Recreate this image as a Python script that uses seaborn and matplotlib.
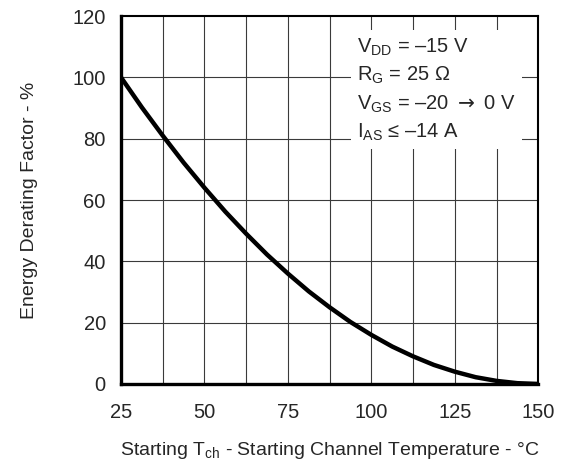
import numpy as np
import pandas as pd
import matplotlib
matplotlib.use("Agg")
import matplotlib.pyplot as plt
import seaborn as sns

# values
temperature = [25, 31.25, 37.5, 43.75, 50, 56.25, 62.5, 68.75, 75, 81.25, 87.5,
               93.75, 100, 106.25, 112.5, 118.75, 125, 131.25, 137.5, 143.75, 150]
derating = [100, 90.2, 81, 72.2, 64, 56.2, 49, 42.2, 36, 30.2, 25,
            20.2, 16, 12.2, 9, 6.2, 4, 2.2, 1, 0.25, 0]

x_ticks = [25, 50, 75, 100, 125, 150]
y_ticks = [0, 20, 40, 60, 80, 100, 120]
x_grid = [37.5, 50, 62.5, 75, 87.5, 100, 112.5, 125, 137.5]
y_grid = [20, 40, 60, 80, 100]

conditions = [
    r"$\mathsf{V_{DD}}$ = –15 V",
    r"$\mathsf{R_{G}}$ = 25 Ω",
    r"$\mathsf{V_{GS}}$ = –20 $\rightarrow$ 0 V",
    r"$\mathsf{I_{AS}}$ ≤ –14 A",
]

sns.set_style("white")
plt.rcParams["font.family"] = ["Liberation Sans", "DejaVu Sans"]
plt.rcParams["mathtext.fontset"] = "custom"
plt.rcParams["mathtext.sf"] = "Liberation Sans"
plt.rcParams["mathtext.rm"] = "DejaVu Sans"
plt.rcParams["mathtext.it"] = "DejaVu Sans"

df = pd.DataFrame({"T": temperature, "E": derating})

fig, ax = plt.subplots(figsize=(5.63, 4.74), dpi=100)
fig.subplots_adjust(left=0.215, right=0.956, top=0.966, bottom=0.19)

for gx in x_grid:
    ax.axvline(gx, color="#3a3a3a", lw=0.8, zorder=1)
for gy in y_grid:
    ax.axhline(gy, color="#3a3a3a", lw=0.8, zorder=1)

sns.lineplot(data=df, x="T", y="E", ax=ax, color="black", lw=3.2, zorder=3)

ax.set_xlim(25, 150)
ax.set_ylim(0, 120)
ax.set_xticks(x_ticks)
ax.set_yticks(y_ticks)
ax.tick_params(axis="both", length=0, labelsize=14.5)
ax.tick_params(axis="x", pad=14)
ax.tick_params(axis="y", pad=11)

for side in ["left", "bottom"]:
    ax.spines[side].set_linewidth(2.4)
for side in ["top", "right"]:
    ax.spines[side].set_linewidth(1.5)
for s in ax.spines.values():
    s.set_color("black")
    s.set_zorder(4)

ax.set_xlabel(r"Starting $\mathsf{T_{ch}}$ - Starting Channel Temperature - °C",
              fontsize=14, labelpad=13)
ax.set_ylabel("Energy Derating Factor - %", fontsize=14, labelpad=25)

ax.text(0.566, 0.945, "\n".join(conditions), transform=ax.transAxes,
        ha="left", va="top", fontsize=14.5, linespacing=1.45, zorder=5,
        bbox=dict(boxstyle="square,pad=0.3", facecolor="white", edgecolor="none"))

fig.savefig("out.png", dpi=100)
